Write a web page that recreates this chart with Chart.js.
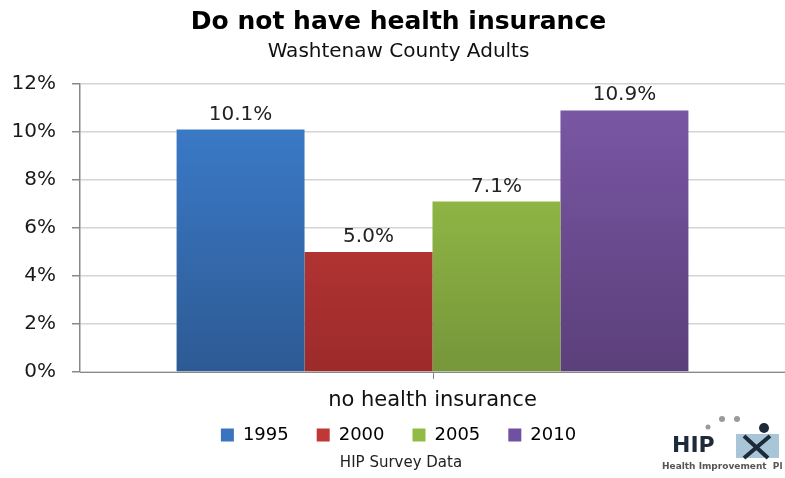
<!DOCTYPE html>
<html>
<head>
<meta charset="utf-8">
<script src="https://cdn.jsdelivr.net/npm/chart.js@4/dist/chart.umd.min.js"></script>
<style>
  html,body{margin:0;padding:0;background:#fff;}
  #wrap{width:785px;height:478px;}
</style>
</head>
<body>
<div id="wrap"><canvas id="chart" width="785" height="478"></canvas></div>
<script>
// ---- data ----
const categories = ["no health insurance"];
const years = ["1995", "2000", "2005", "2010"];
const values1995 = [10.1];
const values2000 = [5.0];
const values2005 = [7.1];
const values2010 = [10.9];
const yTicks = [0, 2, 4, 6, 8, 10, 12];

// top / bottom colours of each bar gradient
const barTop = ["#3d7fcf", "#cd3e3c", "#9fc94b", "#7c59a8"];
const barBottom = ["#2d5a94", "#9c2b2a", "#76963a", "#5b3f7a"];
const legendColors = ["#3a74be", "#c03836", "#92ba45", "#7050a0"];

function gradientFor(i){
  return function(ctx){
    const chart = ctx.chart;
    const area = chart.chartArea;
    if(!area) return barTop[i];
    const g = chart.ctx.createLinearGradient(0, area.top, 0, area.bottom);
    g.addColorStop(0, barTop[i]);
    g.addColorStop(1, barBottom[i]);
    return g;
  };
}

const seriesValues = [values1995, values2000, values2005, values2010];
const datasets = years.map((y, i) => ({
  label: y,
  data: seriesValues[i],
  backgroundColor: gradientFor(i),
  borderWidth: 0,
  categoryPercentage: 0.726,
  barPercentage: 1.0
}));

// value labels, footer, centre tick and logo
const extras = {
  id: "extras",
  afterDatasetsDraw(chart){
    const c = chart.ctx;
    c.save();
    c.font = "20px 'DejaVu Sans'";
    c.fillStyle = "#222";
    c.textAlign = "center";
    c.textBaseline = "alphabetic";
    chart.data.datasets.forEach((ds, i) => {
      chart.getDatasetMeta(i).data.forEach((bar, j) => {
        c.fillText(ds.data[j].toFixed(1) + "%", bar.x, bar.y - 10);
      });
    });
    c.restore();
  },
  afterDraw(chart){
    const c = chart.ctx;
    const x = chart.scales.x;
    const area = chart.chartArea;
    c.save();
    // small tick under the category centre
    const cx = Math.round(x.getPixelForValue(0)) + 0.5;
    c.strokeStyle = "#888";
    c.lineWidth = 1;
    c.beginPath();
    c.moveTo(cx, area.bottom);
    c.lineTo(cx, area.bottom + 7);
    c.stroke();
    // footer
    c.font = "15px 'DejaVu Sans'";
    c.fillStyle = "#222";
    c.textAlign = "center";
    c.textBaseline = "middle";
    c.fillText("HIP Survey Data", 401, 463);
    // logo
    c.fillStyle = "#9a9a9a";
    [[708, 427, 2.5], [722, 419, 3], [737, 419, 3]].forEach(d => {
      c.beginPath(); c.arc(d[0], d[1], d[2], 0, Math.PI * 2); c.fill();
    });
    c.fillStyle = "#a9c6d9";
    c.fillRect(736, 434, 43, 24);
    c.font = "bold 22px 'DejaVu Sans'";
    c.fillStyle = "#1e2a3a";
    c.textAlign = "left";
    c.fillText("HIP", 672, 446);
    c.strokeStyle = "#1e2a3a";
    c.lineWidth = 4;
    c.beginPath();
    c.moveTo(744, 436); c.lineTo(768, 458);
    c.moveTo(770, 436); c.lineTo(744, 458);
    c.stroke();
    c.beginPath(); c.arc(764, 428, 5, 0, Math.PI * 2); c.fillStyle = "#1e2a3a"; c.fill();
    c.font = "bold 9px 'DejaVu Sans'";
    c.fillStyle = "#555";
    c.fillText("Health Improvement  Pl", 662, 467);
    c.restore();
  }
};

new Chart(document.getElementById("chart"), {
  type: "bar",
  data: { labels: categories, datasets: datasets },
  plugins: [extras],
  options: {
    responsive: false,
    animation: false,
    layout: { padding: { left: 12, right: 0, top: 0, bottom: 24 } },
    plugins: {
      title: {
        display: true,
        text: "Do not have health insurance",
        color: "#000",
        font: { family: "'DejaVu Sans'", size: 25, weight: "bold" },
        padding: { top: 7, bottom: 3 }
      },
      subtitle: {
        display: true,
        text: "Washtenaw County Adults",
        color: "#111",
        font: { family: "'DejaVu Sans'", size: 20 },
        padding: { top: 0, bottom: 20 }
      },
      legend: {
        position: "bottom",
        labels: {
          color: "#111",
          font: { family: "'DejaVu Sans'", size: 18 },
          boxWidth: 13,
          boxHeight: 13,
          padding: 28,
          generateLabels(chart){
            return years.map((y, i) => ({
              text: y, fillStyle: legendColors[i], strokeStyle: legendColors[i],
              lineWidth: 0, datasetIndex: i, hidden: false
            }));
          }
        }
      },
      tooltip: { enabled: false }
    },
    scales: {
      x: {
        grid: { display: false },
        border: { color: "#888", width: 1 },
        afterFit(scale){ scale.height = 26; },
        ticks: { display: false },
        title: {
          display: true,
          text: categories[0],
          color: "#111",
          font: { family: "'DejaVu Sans'", size: 21 },
          padding: { top: 0, bottom: -15 }
        }
      },
      y: {
        min: 0,
        max: 12,
        afterBuildTicks(scale){ scale.ticks = yTicks.map(v => ({ value: v })); },
        afterFit(scale){ scale.width = 68; },
        grid: { color: "#d4d4d4", lineWidth: 1.5, tickLength: 8, tickColor: "#888" },
        border: { color: "#888", width: 1.5 },
        ticks: {
          color: "#1a1a1a",
          font: { family: "'DejaVu Sans'", size: 20 },
          padding: 16,
          callback: v => v + "%"
        }
      }
    }
  }
});
</script>
</body>
</html>
